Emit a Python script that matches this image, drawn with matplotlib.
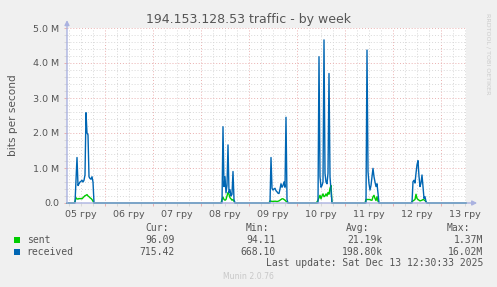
import numpy as np
import matplotlib
matplotlib.use("Agg")
import matplotlib.pyplot as plt
from matplotlib.patches import Rectangle
from matplotlib.ticker import FixedLocator, NullFormatter

# ---- data (time in hours since 05 Dec 00:00, values in Mbit/s) ----
day_labels = ["05 гру", "06 гру", "07 гру", "08 гру", "09 гру",
              "10 гру", "11 гру", "12 гру", "13 гру"]
t_start, t_end = 5.0, 204.5

recv_t1 = [9, 10, 10.5, 11, 11.5, 12, 12.5, 13, 13.5, 14, 14.5, 15, 15.5, 16, 16.5, 17, 17.5, 18, 18.5]
recv_v1 = [0, 1.3, 0.5, 0.55, 0.6, 0.62, 0.65, 0.6, 0.65, 0.8, 2.58, 2.0, 1.95, 0.75, 0.7, 0.68, 0.75, 0.6, 0]
sent_t1 = [8.5, 9, 9.5, 10, 10.5, 11, 11.5, 12, 12.5, 13, 13.5, 14, 14.5, 15, 15.5, 16, 16.5, 17, 17.5, 18, 18.5]
sent_v1 = [0, 0.04, 0.15, 0.12, 0.11, 0.13, 0.12, 0.13, 0.12, 0.15, 0.18, 0.21, 0.22, 0.24, 0.2, 0.18, 0.15, 0.13, 0.1, 0.05, 0]

recv_t2 = [82.5, 83, 83.5, 84, 84.5, 85, 85.5, 86, 86.5, 87, 87.5, 88, 88.5, 89]
recv_v2 = [0, 2.18, 0.47, 0.75, 0.29, 0.5, 1.66, 0.29, 0.38, 0.2, 0.25, 0.9, 0.1, 0]
sent_t2 = [82, 82.5, 83, 83.5, 84, 84.5, 85, 85.5, 86, 86.5, 87, 87.5, 88, 88.5, 89]
sent_v2 = [0, 0.1, 0.17, 0.1, 0.08, 0.1, 0.2, 0.3, 0.25, 0.15, 0.12, 0.08, 0.1, 0.05, 0]

recv_t3 = [106.5, 107, 107.5, 108, 108.5, 109, 109.5, 110, 110.5, 111, 111.5, 112, 112.5, 113, 113.5, 114, 114.5, 115, 115.5]
recv_v3 = [0, 1.3, 0.42, 0.37, 0.4, 0.42, 0.35, 0.32, 0.28, 0.27, 0.4, 0.55, 0.45, 0.5, 0.6, 0.45, 2.45, 0.1, 0]
sent_t3 = [106, 106.5, 107, 107.5, 108, 108.5, 109, 109.5, 110, 110.5, 111, 111.5, 112, 112.5, 113, 113.5, 114, 114.5, 115, 115.5]
sent_v3 = [0, 0.06, 0.05, 0.05, 0.04, 0.05, 0.05, 0.05, 0.04, 0.05, 0.06, 0.08, 0.1, 0.12, 0.12, 0.1, 0.08, 0.05, 0.03, 0]

recv_t4 = [130.5, 131, 131.5, 132, 132.5, 133, 133.5, 134, 134.5, 135, 135.5, 136, 136.5, 137, 137.5]
recv_v4 = [0, 4.18, 0.75, 0.45, 0.5, 0.6, 4.66, 0.85, 0.6, 0.55, 0.85, 3.7, 0.75, 0.37, 0]
sent_t4 = [129.5, 130, 130.5, 131, 131.5, 132, 132.5, 133, 133.5, 134, 134.5, 135, 135.5, 136, 136.5, 137, 137.5]
sent_v4 = [0, 0.03, 0.08, 0.15, 0.22, 0.12, 0.2, 0.26, 0.18, 0.2, 0.26, 0.2, 0.3, 0.25, 0.42, 0.5, 0]

recv_t5 = [154.5, 155, 155.5, 156, 156.5, 157, 157.5, 158, 158.5, 159, 159.5, 160, 160.5, 161]
recv_v5 = [0, 4.37, 0.9, 0.55, 0.37, 0.5, 0.75, 0.99, 0.75, 0.6, 0.47, 0.55, 0.28, 0]
sent_t5 = [154, 154.5, 155, 155.5, 156, 156.5, 157, 157.5, 158, 158.5, 159, 159.5, 160, 160.5, 161]
sent_v5 = [0, 0.1, 0.1, 0.1, 0.1, 0.1, 0.08, 0.08, 0.18, 0.22, 0.13, 0.07, 0.18, 0.05, 0]

recv_t6 = [177.5, 178, 178.5, 179, 179.5, 180, 180.5, 181, 181.5, 182, 182.5, 183, 183.5, 184, 184.5, 185]
recv_v6 = [0, 0.61, 0.65, 0.57, 0.85, 1.09, 1.21, 0.76, 0.47, 0.57, 0.8, 0.47, 0.13, 0.18, 0.04, 0]
sent_t6 = [177, 177.5, 178, 178.5, 179, 179.5, 180, 180.5, 181, 181.5, 182, 182.5, 183, 183.5, 184, 184.5, 185]
sent_v6 = [0, 0.04, 0.06, 0.08, 0.1, 0.25, 0.13, 0.1, 0.08, 0.06, 0.07, 0.08, 0.1, 0.09, 0.07, 0.03, 0]

legend_names = ["sent", "received"]
cur_vals = ["96.09", "715.42"]
min_vals = ["94.11", "668.10"]
avg_vals = ["21.19k", "198.80k"]
max_vals = ["1.37M", "16.02M"]

# ---- build series ----
def build(ts, vs):
    t = [t_start]
    v = [0.0]
    for a, b in zip(ts, vs):
        t += list(a)
        v += list(b)
    t.append(t_end)
    v.append(0.0)
    return np.array(t), np.array(v)

rt, rv = build([recv_t1, recv_t2, recv_t3, recv_t4, recv_t5, recv_t6],
               [recv_v1, recv_v2, recv_v3, recv_v4, recv_v5, recv_v6])
st, sv = build([sent_t1, sent_t2, sent_t3, sent_t4, sent_t5, sent_t6],
               [sent_v1, sent_v2, sent_v3, sent_v4, sent_v5, sent_v6])

W, H = 497, 287
BG = "#f0f0f0"
TXT = "#555555"
AXC = "#aab2e0"
MAJ = "#eab0b0"
MIN = "#d8d8d8"
fig = plt.figure(figsize=(W / 100, H / 100), dpi=100, facecolor=BG)

L, R, T, B = 67, 466, 28, 203
ax = fig.add_axes([L / W, 1 - B / H, (R - L) / W, (B - T) / H])
ax.set_facecolor("white")
ax.set_xlim(t_start, t_end)
ax.set_ylim(0, 5.0)

# grid
midnights = [24 * i for i in range(1, 9)]
six_h = [h for h in np.arange(6, 205, 6) if h % 24 != 0]
ax.xaxis.set_major_locator(FixedLocator(midnights))
ax.xaxis.set_major_formatter(NullFormatter())
ax.xaxis.set_minor_locator(FixedLocator(six_h))
ax.yaxis.set_major_locator(FixedLocator([0, 1, 2, 3, 4, 5]))
ax.yaxis.set_minor_locator(FixedLocator([y / 5 for y in range(1, 25) if y % 5 != 0]))
ax.set_yticklabels(["0.0", "1.0 M", "2.0 M", "3.0 M", "4.0 M", "5.0 M"])
ax.grid(which="major", color=MAJ, linestyle=(0, (1, 2)), linewidth=0.7)
ax.grid(which="minor", color=MIN, linestyle=(0, (1, 2)), linewidth=0.7)
ax.set_axisbelow(True)
ax.tick_params(axis="x", which="major", length=2, color=MAJ, width=0.7)
ax.tick_params(axis="x", which="minor", length=2, color=MIN, width=0.7)
ax.tick_params(axis="y", which="major", length=2, color=MAJ, width=0.7,
               labelsize=6.8, labelcolor=TXT, pad=3.5)
ax.tick_params(axis="y", which="minor", length=2, color=MIN, width=0.7)
for s in ax.spines.values():
    s.set_visible(False)

sec = ax.secondary_xaxis("bottom")
sec.set_xticks([24 * i + 12 for i in range(len(day_labels))], day_labels)
sec.tick_params(length=0, labelsize=6.8, labelcolor=TXT, pad=5)
for s in sec.spines.values():
    s.set_visible(False)

# data: sent first, received over it
ax.plot(st, sv, color="#00cc00", lw=1.0, clip_on=False, zorder=3)
ax.plot(rt, rv, color="#0066b3", lw=1.0, clip_on=False, zorder=4)

# axes with arrows (drawn on top of the data, as rrdtool does)
ax.annotate("", xy=(1.028, 0), xytext=(0, 0), xycoords="axes fraction",
            arrowprops=dict(arrowstyle="-|>", color=AXC, lw=1.0, mutation_scale=7,
                            shrinkA=0, shrinkB=0), zorder=6)
ax.annotate("", xy=(0, 1.045), xytext=(0, 0), xycoords="axes fraction",
            arrowprops=dict(arrowstyle="-|>", color=AXC, lw=1.0, mutation_scale=7,
                            shrinkA=0, shrinkB=0), zorder=6)

# texts
fig.text(248.5 / W, 1 - 19 / H, "194.153.128.53 traffic - by week", ha="center",
         va="center", fontsize=9, color=TXT)
fig.text(13 / W, 1 - 115.5 / H, "bits per second", rotation=90, ha="center",
         va="center", fontsize=7.6, color=TXT)
fig.text(487.5 / W, 1 - 53.5 / H, "RRDTOOL / TOBI OETIKER", rotation=270,
         ha="center", va="center", fontsize=4.6, color="#cccccc")

mono = "DejaVu Sans Mono"
fs = 7
def ftext(x, y, s, ha="left", **kw):
    fig.text(x / W, 1 - y / H, s, ha=ha, va="center", fontsize=fs,
             family=mono, color=TXT, **kw)

ftext(168.5, 227.7, "Cur:", ha="right")
ftext(269, 227.7, "Min:", ha="right")
ftext(369.5, 227.7, "Avg:", ha="right")
ftext(470.5, 227.7, "Max:", ha="right")

colors = ["#00cc00", "#0066b3"]
rows_y = [239.7, 251.7]
for i, name in enumerate(legend_names):
    y = rows_y[i]
    fig.patches.append(Rectangle((14 / W, 1 - (y + 3) / H), 6 / W, 6 / H,
                                 transform=fig.transFigure, facecolor=colors[i],
                                 edgecolor="none"))
    ftext(26.7, y, name)
    ftext(174.5, y, cur_vals[i], ha="right")
    ftext(275.5, y, min_vals[i], ha="right")
    ftext(382.5, y, avg_vals[i], ha="right")
    ftext(483, y, max_vals[i], ha="right")

ftext(483, 263.3, "Last update: Sat Dec 13 12:30:33 2025", ha="right")
fig.text(248 / W, 1 - 276.5 / H, "Munin 2.0.76", ha="center", va="center",
         fontsize=5.6, color="#c8c8c8")

fig.savefig("out.png", dpi=100, facecolor=BG)
